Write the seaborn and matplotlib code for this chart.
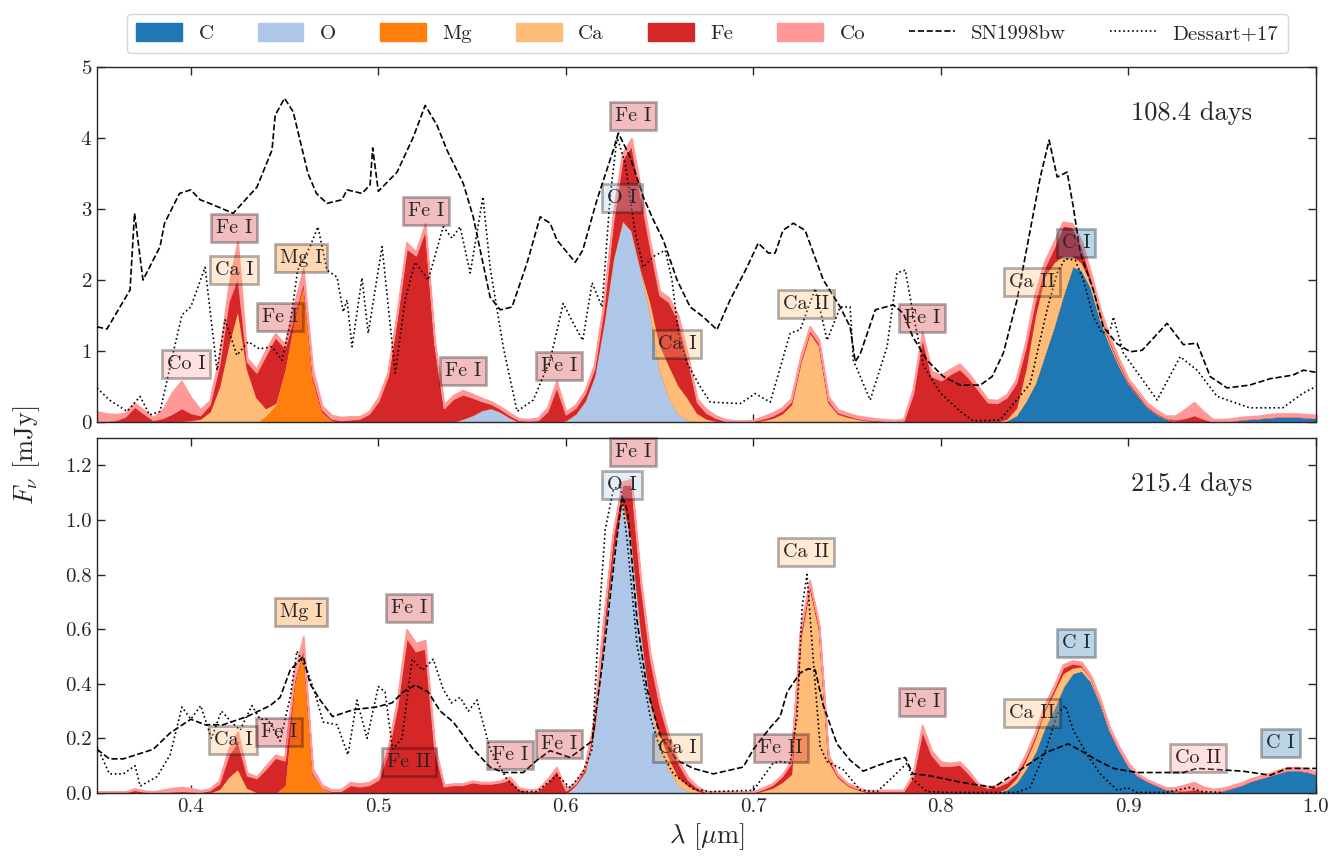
import numpy as np
import matplotlib
matplotlib.use("Agg")
import matplotlib.pyplot as plt
from matplotlib.patches import Patch
from matplotlib.lines import Line2D
import seaborn as sns

# ---------------- data ----------------
wl = np.round(np.arange(0.35, 1.0001, 0.005), 3)   # model wavelength grid (um)
elements = ["C", "O", "Mg", "Ca", "Fe", "Co"]
el_colors = ["#1f77b4", "#aec7e8", "#ff7f0e", "#ffbb78", "#d62728", "#ff9896"]

# --- 108.4 days: element contributions (segments start wavelength -> values)
c108_seg = {0.830: [0.01, 0.03, 0.1, 0.3, 0.55, 0.95, 1.35, 1.8, 2.2, 2.15,
                    1.9, 1.45, 1.1, 0.8, 0.55, 0.38, 0.22, 0.12, 0.05, 0.02,
                    0.01, 0, 0, 0, 0.01, 0.02, 0.04, 0.05, 0.06, 0.07,
                    0.08, 0.08, 0.08, 0.07, 0.06]}
o108_seg = {0.540: [0.01, 0.05, 0.1, 0.17, 0.2, 0.15, 0.07, 0.01, 0, 0,
                    0, 0, 0.03, 0.12, 0.3, 0.65, 1.4, 2.3, 2.85, 2.7,
                    2.15, 1.55, 0.75, 0.35, 0.12, 0.04, 0.01]}
mg108_seg = {0.440: [0.1, 0.25, 0.75, 1.45, 1.95, 0.6, 0.15, 0.03]}
ca108_seg = {0.395: [0.02, 0.03, 0.05, 0.15, 0.5, 1.1, 1.6, 0.75, 0.35, 0.1, 0.02],
             0.645: [0.15, 0.35, 0.45, 0.4, 0.3, 0.12, 0.05, 0.02, 0, 0,
                     0, 0.01, 0.03, 0.06, 0.12, 0.25, 0.84, 1.27, 1.08, 0.28,
                     0.12, 0.08, 0.05, 0.03, 0.02, 0.01],
             0.835: [0.02, 0.1, 0.45, 0.95, 1.1, 0.9, 0.55, 0.15, 0.1, 0.08,
                     0.05, 0.03, 0.02]}
fe108 = [0.02, 0.02, 0.03, 0.08, 0.22, 0.12, 0.03, 0.06, 0.12, 0.18,
         0.1, 0.05, 0.1, 0.3, 0.6, 0.45, 0.1, 0.35, 0.75, 0.93,
         0.3, 0.05, 0.05, 0.05, 0.03, 0.02, 0.03, 0.04, 0.05, 0.12,
         0.3, 0.65, 1.5, 2.45, 2.35, 2.72, 1.1, 0.2, 0.32, 0.34,
         0.25, 0.13, 0.06, 0.04, 0.03, 0.02, 0.02, 0.03, 0.15, 0.5,
         0.08, 0.08, 0.1, 0.1, 0.2, 0.5, 0.85, 1.2, 1.02, 0.75,
         0.69, 0.89, 0.9, 0.55, 0.15, 0.08, 0.04, 0.02, 0.01, 0.01,
         0.01, 0.02, 0.03, 0.04, 0.04, 0.03, 0.03, 0.03, 0.03, 0.02,
         0.02, 0.01, 0.01, 0.01, 0.01, 0.01, 0.02, 0.4, 1.2, 0.65,
         0.59, 0.68, 0.75, 0.62, 0.45, 0.28, 0.26, 0.3, 0.35, 0.3,
         0.2, 0.12, 0.2, 0.42, 0.4, 0.23, 0.05, 0.03, 0.02, 0.02,
         0.02, 0.02, 0.01, 0.01, 0.01, 0.02, 0.05, 0.1, 0.05, 0.01,
         0, 0, 0, 0, 0, 0, 0, 0, 0, 0,
         0]
co108 = [0.13, 0.1, 0.08, 0.05, 0.05, 0.05, 0.04, 0.12, 0.3, 0.38,
         0.22, 0.08, 0.05, 0.1, 0.2, 0.5, 0.05, 0.05, 0.07, 0.05,
         0.05, 0.15, 0.17, 0.1, 0.05, 0.05, 0.04, 0.04, 0.03, 0.03,
         0.05, 0.05, 0.05, 0.08, 0.05, 0.08, 0.05, 0.05, 0.05, 0.06,
         0.05, 0.04, 0.03, 0.03, 0.03, 0.02, 0.02, 0.03, 0.05, 0.08,
         0.04, 0.04, 0.04, 0.05, 0.08, 0.1, 0.08, 0.1, 0.1, 0.08,
         0.06, 0.06, 0.08, 0.06, 0.05, 0.05, 0.03, 0.02, 0.01, 0.01,
         0.01, 0.03, 0.04, 0.04, 0.04, 0.05, 0.05, 0.05, 0.05, 0.04,
         0.03, 0.03, 0.03, 0.02, 0.02, 0.02, 0.02, 0.06, 0.08, 0.07,
         0.07, 0.07, 0.07, 0.06, 0.05, 0.04, 0.04, 0.04, 0.05, 0.07,
         0.1, 0.08, 0.08, 0.05, 0.05, 0.07, 0.07, 0.06, 0.05, 0.05,
         0.04, 0.04, 0.04, 0.04, 0.03, 0.05, 0.12, 0.18, 0.1, 0.03,
         0.03, 0.03, 0.03, 0.03, 0.03, 0.04, 0.04, 0.04, 0.04, 0.04,
         0.04]

# --- 215.4 days
c215_seg = {0.830: [0.005, 0.015, 0.04, 0.09, 0.15, 0.24, 0.31, 0.39, 0.44, 0.45,
                    0.41, 0.33, 0.23, 0.16, 0.1, 0.065, 0.045, 0.03, 0.015, 0.008,
                    0, 0, 0, 0.005, 0.01, 0.02, 0.03, 0.045, 0.055, 0.065,
                    0.075, 0.085, 0.085, 0.08, 0.07]}
o215_seg = {0.605: [0.03, 0.08, 0.24, 0.58, 0.88, 1.08, 0.93, 0.6, 0.34, 0.18,
                    0.09, 0.03, 0.01]}
mg215_seg = {0.450: [0.03, 0.4, 0.53, 0.07, 0.02, 0.005]}
ca215_seg = {0.410: [0.003, 0.015, 0.06, 0.09, 0.02, 0.005],
             0.650: [0.04, 0.04, 0.03, 0.02, 0.01],
             0.705: [0.01, 0.02, 0.04, 0.07, 0.57, 0.76, 0.6, 0.12, 0.06, 0.03,
                     0.015, 0.005, 0.005, 0.005, 0.005, 0.005],
             0.835: [0.005, 0.015, 0.03, 0.05, 0.06, 0.06, 0.05, 0.02, 0.015, 0.01,
                     0.005]}
fe215 = [0.003, 0.003, 0.003, 0.003, 0.012, 0.006, 0.003, 0.004, 0.006, 0.008,
         0.006, 0.004, 0.008, 0.02, 0.08, 0.1, 0.045, 0.05, 0.09, 0.13,
         0.09, 0.01, 0.005, 0.005, 0.0, 0.003, 0.008, 0.03, 0.025, 0.03,
         0.05, 0.15, 0.32, 0.57, 0.52, 0.53, 0.16, 0.025, 0.03, 0.03,
         0.04, 0.035, 0.035, 0.04, 0.05, 0.015, 0.008, 0.01, 0.04, 0.085,
         0.01, 0.005, 0.01, 0.02, 0.04, 0.06, 0.05, 0.2, 0.16, 0.15,
         0.1, 0.07, 0.05, 0.02, 0.01, 0.003, 0.003, 0.003, 0.003, 0.003,
         0.003, 0.005, 0.01, 0.02, 0.04, 0.02, 0.01, 0.01, 0.01, 0.005,
         0.003, 0.003, 0.003, 0.003, 0.003, 0.003, 0.003, 0.06, 0.23, 0.14,
         0.1, 0.1, 0.105, 0.07, 0.03, 0.02, 0.02, 0.02, 0.015, 0.01,
         0.01, 0.01, 0.01, 0.02, 0.015, 0.005, 0, 0, 0, 0,
         0, 0, 0, 0, 0, 0.003, 0.01, 0.015, 0.008, 0,
         0, 0, 0, 0, 0, 0, 0, 0, 0, 0,
         0]
co215 = [0.003, 0.003, 0.003, 0.003, 0.005, 0.003, 0.003, 0.008, 0.012, 0.014,
         0.012, 0.006, 0.005, 0.01, 0.02, 0.035, 0.01, 0.005, 0.01, 0.01,
         0.01, 0.03, 0.04, 0.015, 0.01, 0.005, 0.005, 0.01, 0.01, 0.01,
         0.01, 0.01, 0.02, 0.03, 0.03, 0.03, 0.02, 0.005, 0.005, 0.005,
         0.005, 0.005, 0.005, 0.005, 0.01, 0.005, 0.004, 0.005, 0.01, 0.01,
         0.005, 0.005, 0.005, 0.01, 0.01, 0.01, 0.01, 0.02, 0.02, 0.02,
         0.02, 0.01, 0.01, 0.01, 0.005, 0.003, 0.003, 0.003, 0.003, 0.003,
         0.003, 0.005, 0.005, 0.005, 0.005, 0.01, 0.01, 0.01, 0.01, 0.005,
         0.005, 0.005, 0.003, 0.003, 0.003, 0.003, 0.003, 0.01, 0.02, 0.015,
         0.015, 0.01, 0.01, 0.01, 0.005, 0.005, 0.005, 0.005, 0.005, 0.01,
         0.01, 0.01, 0.01, 0.01, 0.01, 0.01, 0.01, 0.01, 0.01, 0.01,
         0.01, 0.005, 0.005, 0.005, 0.005, 0.01, 0.02, 0.025, 0.015, 0.01,
         0.008, 0.008, 0.008, 0.008, 0.008, 0.008, 0.01, 0.01, 0.01, 0.01,
         0.008]

# --- comparison spectra
sn108_x = [0.350, 0.3553, 0.3676, 0.370, 0.3745, 0.3836, 0.386, 0.394, 0.400, 0.405,
           0.410, 0.4226, 0.4353, 0.4433, 0.445, 0.450, 0.4546, 0.4625, 0.467, 0.4726,
           0.4806, 0.4833, 0.4913, 0.4956, 0.497, 0.500, 0.510, 0.5186, 0.525, 0.5313,
           0.5366, 0.5453, 0.5506, 0.5596, 0.565, 0.5713, 0.5793, 0.5863, 0.5916, 0.5953,
           0.605, 0.609, 0.6166, 0.6253, 0.628, 0.6343, 0.6413, 0.6466, 0.652, 0.6593,
           0.6663, 0.6733, 0.6806, 0.6876, 0.6966, 0.7026, 0.708, 0.7116, 0.7158, 0.7213,
           0.7276, 0.732, 0.7373, 0.7463, 0.7516, 0.7543, 0.757, 0.765, 0.7746, 0.780,
           0.785, 0.7926, 0.8013, 0.8103, 0.821, 0.8273, 0.8333, 0.8406, 0.8476, 0.853,
           0.8577, 0.862, 0.8673, 0.8706, 0.8743, 0.8813, 0.8866, 0.894, 0.901, 0.9073,
           0.9206, 0.9293, 0.9366, 0.9436, 0.9526, 0.9646, 0.9756, 0.9876, 0.9933, 1.0]
sn108_y = [1.34, 1.31, 1.86, 2.94, 2.0, 2.47, 2.8, 3.22, 3.27, 3.13,
           3.08, 2.94, 3.31, 3.83, 4.32, 4.56, 4.37, 3.5, 3.22, 3.08,
           3.13, 3.27, 3.22, 3.34, 3.86, 3.25, 3.52, 4.01, 4.46, 4.18,
           3.83, 3.36, 2.89, 1.76, 1.58, 1.62, 2.24, 2.89, 2.8, 2.56,
           2.25, 2.42, 3.13, 3.83, 4.07, 3.73, 3.17, 2.85, 2.56, 2.0,
           1.62, 1.48, 1.3, 1.72, 2.18, 2.52, 2.38, 2.38, 2.7, 2.8,
           2.7, 2.38, 2.0, 1.62, 1.34, 0.85, 0.96, 1.58, 1.65, 1.53,
           1.2, 0.87, 0.64, 0.52, 0.52, 0.64, 0.97, 1.72, 2.7, 3.45,
           3.97, 3.45, 3.52, 3.03, 2.38, 1.86, 1.34, 1.1, 0.99, 1.01,
           1.39, 1.09, 1.11, 0.64, 0.48, 0.52, 0.61, 0.66, 0.73, 0.7]
de108_x = [0.350, 0.3566, 0.366, 0.373, 0.378, 0.3836, 0.3906, 0.3953, 0.400, 0.4076,
           0.414, 0.4183, 0.4246, 0.4306, 0.4366, 0.4433, 0.4486, 0.453, 0.457, 0.4636,
           0.4678, 0.4726, 0.478, 0.4813, 0.4833, 0.486, 0.4913, 0.4946, 0.502, 0.509,
           0.5143, 0.5196, 0.5266, 0.5346, 0.5393, 0.5436, 0.549, 0.5558, 0.5596, 0.5666,
           0.574, 0.5826, 0.5916, 0.5986, 0.604, 0.609, 0.614, 0.6193, 0.6236, 0.6273,
           0.6316, 0.637, 0.6413, 0.6466, 0.653, 0.6566, 0.660, 0.6646, 0.6716, 0.677,
           0.693, 0.701, 0.709, 0.7196, 0.725, 0.733, 0.7393, 0.7463, 0.7516, 0.7533,
           0.7623, 0.7713, 0.7766, 0.781, 0.785, 0.7906, 0.7996, 0.8103, 0.817, 0.8246,
           0.8316, 0.8476, 0.8566, 0.862, 0.8663, 0.8716, 0.876, 0.8813, 0.886, 0.8903,
           0.892, 0.8973, 0.9063, 0.9153, 0.9276, 0.9366, 0.9473, 0.9646, 0.9823, 0.9933,
           1.0]
de108_y = [0.48, 0.31, 0.15, 0.36, 0.1, 0.15, 0.97, 1.51, 1.62, 2.18,
           0.73, 1.44, 0.94, 1.13, 1.03, 1.06, 0.87, 1.39, 2.14, 2.47,
           2.75, 2.14, 2.04, 1.55, 1.72, 1.06, 2.03, 1.25, 2.47, 0.69,
           1.72, 2.25, 2.0, 2.75, 2.59, 2.75, 2.1, 3.17, 2.18, 1.06,
           0.15, 0.31, 0.87, 1.67, 1.39, 1.15, 1.96, 1.62, 3.17, 4.01,
           3.65, 2.66, 2.18, 2.33, 2.42, 2.0, 1.25, 0.83, 0.5, 0.28,
           0.26, 0.4, 0.28, 1.25, 1.3, 1.88, 1.15, 1.62, 1.62, 0.87,
           0.31, 1.06, 2.1, 2.14, 1.55, 0.8, 0.41, 0.15, 0.02, 0.02,
           0.03, 0.54, 1.58, 2.1, 2.3, 2.28, 2.0, 1.48, 1.25, 1.3,
           1.48, 0.97, 0.64, 0.31, 0.92, 0.73, 0.36, 0.2, 0.2, 0.41,
           0.5]
sn215_x = [0.350, 0.3566, 0.364, 0.380, 0.389, 0.400, 0.4076, 0.4173, 0.430, 0.4423,
           0.4476, 0.453, 0.460, 0.4636, 0.469, 0.4756, 0.4866, 0.499, 0.5073, 0.5133,
           0.5196, 0.5266, 0.533, 0.540, 0.5506, 0.5596, 0.5666, 0.5773, 0.5846, 0.5916,
           0.6023, 0.614, 0.620, 0.6263, 0.630, 0.633, 0.638, 0.6433, 0.6503, 0.6593,
           0.668, 0.6786, 0.6946, 0.700, 0.709, 0.7143, 0.718, 0.725, 0.7293, 0.733,
           0.7373, 0.7446, 0.7516, 0.7586, 0.766, 0.7746, 0.781, 0.785, 0.7926, 0.8103,
           0.828, 0.8423, 0.8566, 0.8678, 0.876, 0.8833, 0.892, 0.9046, 0.9293, 0.9366,
           0.961, 0.9756, 0.9846, 1.0]
sn215_y = [0.16, 0.125, 0.125, 0.16, 0.22, 0.27, 0.25, 0.25, 0.28, 0.32,
           0.35, 0.45, 0.5, 0.4, 0.34, 0.28, 0.305, 0.315, 0.33, 0.37,
           0.395, 0.37, 0.3, 0.26, 0.16, 0.095, 0.075, 0.075, 0.12, 0.155,
           0.13, 0.19, 0.5, 0.88, 1.09, 1.03, 0.63, 0.38, 0.21, 0.12,
           0.09, 0.07, 0.095, 0.16, 0.24, 0.28, 0.37, 0.44, 0.455, 0.45,
           0.32, 0.18, 0.12, 0.08, 0.1, 0.12, 0.13, 0.07, 0.065, 0.04,
           0.02, 0.085, 0.15, 0.18, 0.15, 0.12, 0.09, 0.075, 0.075, 0.09,
           0.08, 0.065, 0.09, 0.09]
de215_x = [0.350, 0.3566, 0.364, 0.3703, 0.373, 0.382, 0.389, 0.3953, 0.400, 0.4053,
           0.411, 0.4163, 0.4216, 0.4263, 0.4326, 0.437, 0.441, 0.4476, 0.453, 0.4566,
           0.462, 0.466, 0.4706, 0.478, 0.4838, 0.4886, 0.494, 0.500, 0.5036, 0.5076,
           0.5126, 0.518, 0.5236, 0.5293, 0.5346, 0.539, 0.5436, 0.548, 0.5526, 0.5596,
           0.5686, 0.5756, 0.5846, 0.5953, 0.6023, 0.609, 0.614, 0.6173, 0.621, 0.6253,
           0.629, 0.6326, 0.638, 0.645, 0.6503, 0.6573, 0.668, 0.677, 0.700, 0.7106,
           0.7143, 0.7196, 0.7233, 0.726, 0.7286, 0.732, 0.7356, 0.7393, 0.748, 0.757,
           0.766, 0.7746, 0.782, 0.785, 0.7926, 0.805, 0.840, 0.8476, 0.8566, 0.862,
           0.8663, 0.8706, 0.878, 0.885, 0.894, 0.8993, 0.9046, 0.920, 0.9326, 0.9393,
           0.950]
de215_y = [0.17, 0.07, 0.07, 0.1, 0.025, 0.06, 0.14, 0.315, 0.27, 0.32,
           0.2, 0.3, 0.26, 0.23, 0.32, 0.27, 0.27, 0.19, 0.35, 0.52,
           0.45, 0.37, 0.26, 0.25, 0.14, 0.34, 0.2, 0.39, 0.37, 0.16,
           0.2, 0.49, 0.45, 0.49, 0.38, 0.33, 0.35, 0.3, 0.34, 0.16,
           0.05, 0.005, 0.005, 0.065, 0.02, 0.075, 0.16, 0.6, 0.965, 1.11,
           1.13, 0.93, 0.54, 0.28, 0.16, 0.07, 0.015, 0.005, 0.01, 0.11,
           0.115, 0.11, 0.28, 0.68, 0.8, 0.48, 0.17, 0.115, 0.085, 0.01,
           0.005, 0.06, 0.11, 0.05, 0.005, 0.002, 0.002, 0.02, 0.17, 0.29,
           0.32, 0.23, 0.14, 0.07, 0.01, 0.02, 0.002, 0.002, 0.02, 0.005,
           0.002]

# --- line identification labels: (text, element, wavelength, flux)
labels108 = [("Co I", "Co", 0.3975, 0.82), ("Fe I", "Fe", 0.423, 2.73),
             ("Ca I", "Ca", 0.423, 2.14), ("Fe I", "Fe", 0.4476, 1.48),
             ("Mg I", "Mg", 0.4588, 2.31), ("Fe I", "Fe", 0.5255, 2.97),
             ("Fe I", "Fe", 0.545, 0.72), ("Fe I", "Fe", 0.5964, 0.79),
             ("Fe I", "Fe", 0.6359, 4.31), ("O I", "O", 0.630, 3.15),
             ("Ca I", "Ca", 0.6593, 1.10), ("Ca II", "Ca", 0.728, 1.66),
             ("Fe I", "Fe", 0.790, 1.46), ("C I", "C", 0.8721, 2.52),
             ("Ca II", "Ca", 0.8487, 1.97)]
labels215 = [("Ca I", "Ca", 0.4225, 0.195), ("Fe I", "Fe", 0.447, 0.224),
             ("Mg I", "Mg", 0.4588, 0.664), ("Fe I", "Fe", 0.5164, 0.679),
             ("Fe II", "Fe", 0.5164, 0.114), ("Fe I", "Fe", 0.5703, 0.139),
             ("Fe I", "Fe", 0.5964, 0.18), ("Fe I", "Fe", 0.6359, 1.248),
             ("O I", "O", 0.630, 1.127), ("Ca I", "Ca", 0.6593, 0.165),
             ("Fe II", "Fe", 0.7148, 0.165), ("Ca II", "Ca", 0.728, 0.884),
             ("Fe I", "Fe", 0.790, 0.334), ("C I", "C", 0.8721, 0.55),
             ("Ca II", "Ca", 0.8487, 0.294), ("Co II", "Co", 0.937, 0.128),
             ("C I", "C", 0.981, 0.183)]
epochs = ["108.4 days", "215.4 days"]
ylims = [5.0, 1.3]
xticks = [0.4, 0.5, 0.6, 0.7, 0.8, 0.9, 1.0]


def place(segments):
    arr = np.zeros(len(wl))
    for start, vals in segments.items():
        i0 = int(round((start - 0.35) / 0.005))
        arr[i0:i0 + len(vals)] = vals
    return arr


stacks = [
    [place(c108_seg), place(o108_seg), place(mg108_seg), place(ca108_seg),
     np.array(fe108), np.array(co108)],
    [place(c215_seg), place(o215_seg), place(mg215_seg), place(ca215_seg),
     np.array(fe215), np.array(co215)],
]
comps = [(sn108_x, sn108_y, de108_x, de108_y), (sn215_x, sn215_y, de215_x, de215_y)]
all_labels = [labels108, labels215]
color_of = dict(zip(elements, el_colors))

# ---------------- style ----------------
sns.set_style("ticks")
plt.rcParams.update({
    "font.family": "serif",
    "font.serif": ["cmr10", "DejaVu Serif"],
    "mathtext.fontset": "cm",
    "axes.formatter.use_mathtext": True,
    "axes.unicode_minus": False,
    "xtick.direction": "in", "ytick.direction": "in",
    "xtick.top": True, "ytick.right": True,
    "xtick.major.size": 6, "ytick.major.size": 6,
    "axes.linewidth": 1.0,
})

fig = plt.figure(figsize=(13.42, 8.56), dpi=100)
ax1 = fig.add_axes([0.0723, 0.507, 0.9083, 0.4147])
ax2 = fig.add_axes([0.0723, 0.0736, 0.9083, 0.4147], sharex=ax1)
axes = [ax1, ax2]

for k, ax in enumerate(axes):
    polys = ax.stackplot(wl, *stacks[k], colors=el_colors, zorder=1)
    for p, col in zip(polys, el_colors):
        p.set_edgecolor(col)
        p.set_linewidth(1.2)
    snx, sny, dex, dey = comps[k]
    sns.lineplot(x=snx, y=sny, ax=ax, color="k", linestyle="--", linewidth=1.2,
                 sort=False, estimator=None, zorder=3)
    sns.lineplot(x=dex, y=dey, ax=ax, color="k", linestyle=":", linewidth=1.2,
                 sort=False, estimator=None, zorder=3)
    for txt, el, xx, yy in all_labels[k]:
        ax.text(xx, yy, txt, fontsize=14.5, ha="center", va="center", zorder=5,
                bbox=dict(boxstyle="square,pad=0.25", facecolor=color_of[el],
                          edgecolor="k", linewidth=2, alpha=0.3))
    ax.text(0.898, 0.87, epochs[k], transform=ax.transAxes, fontsize=19,
            ha="center", va="center")
    ax.set_xlim(0.35, 1.0)
    ax.set_ylim(0, ylims[k])
    ax.set_xticks(xticks)
    ax.tick_params(labelsize=15, width=1.0)
    ax.set_ylabel("")
    ax.set_xlabel("")

ax1.set_yticks([0, 1, 2, 3, 4, 5])
ax1.tick_params(labelbottom=False)
ax2.set_yticks([0.0, 0.2, 0.4, 0.6, 0.8, 1.0, 1.2])
ax2.set_yticklabels(["0.0", "0.2", "0.4", "0.6", "0.8", "1.0", "1.2"])
ax2.set_xticklabels(["0.4", "0.5", "0.6", "0.7", "0.8", "0.9", "1.0"])
ax2.set_xlabel(r"$\lambda$ [$\mu$m]", fontsize=19, labelpad=4)
fig.text(0.02, 0.468, r"$F_\nu$ [mJy]", rotation=90, fontsize=19,
         ha="center", va="center")

handles = [Patch(facecolor=c, edgecolor=c) for c in el_colors]
handles += [Line2D([0], [0], color="k", ls="--", lw=1.2),
            Line2D([0], [0], color="k", ls=":", lw=1.2)]
names = elements + ["SN1998bw", "Dessart+17"]
fig.legend(handles, names, loc="upper center", ncol=8, bbox_to_anchor=(0.527, 0.996),
           fontsize=15, frameon=True, fancybox=True, handlelength=2.2,
           handleheight=0.95, handletextpad=0.8, columnspacing=2.1, borderpad=0.45)

fig.savefig("out.png", dpi=100)
